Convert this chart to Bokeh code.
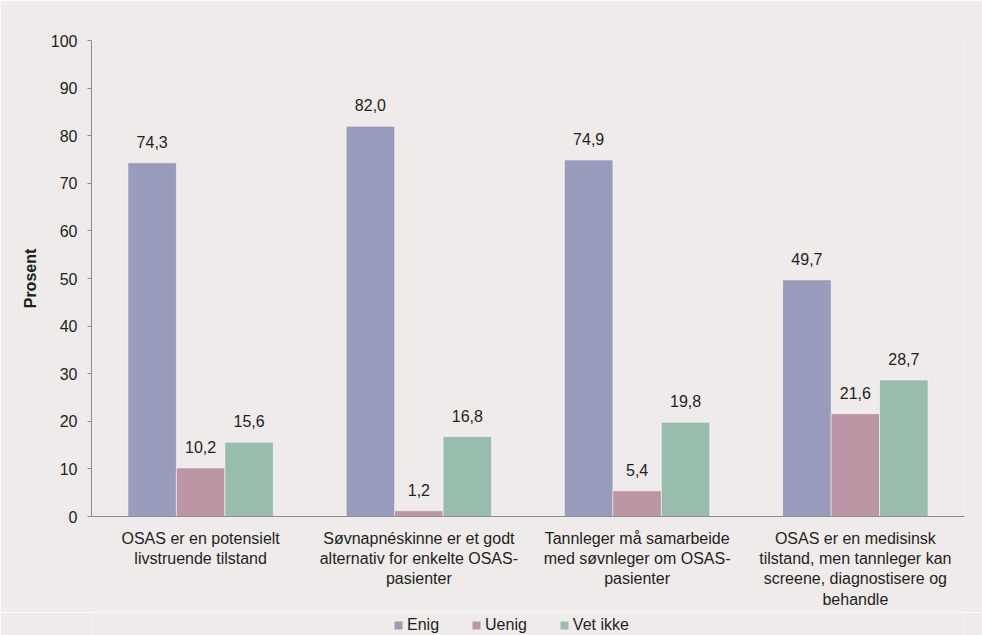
from bokeh.plotting import figure
from bokeh.models import ColumnDataSource, Range1d, FactorRange, Legend, LegendItem
from bokeh.layouts import column
from bokeh.transform import dodge
from bokeh.core.properties import value
from bokeh.embed import file_html
from bokeh.resources import INLINE

categories = [
    "OSAS er en potensielt\nlivstruende tilstand",
    "Søvnapnéskinne er et godt\nalternativ for enkelte OSAS-\npasienter",
    "Tannleger må samarbeide\nmed søvnleger om OSAS-\npasienter",
    "OSAS er en medisinsk\ntilstand, men tannleger kan\nscreene, diagnostisere og\nbehandle",
]
enig = [74.3, 82.0, 74.9, 49.7]
uenig = [10.2, 1.2, 5.4, 21.6]
vet_ikke = [15.6, 16.8, 19.8, 28.7]
series_names = ["Enig", "Uenig", "Vet ikke"]
y_ticks = [0, 10, 20, 30, 40, 50, 60, 70, 80, 90, 100]

colors = ["#989BBB", "#BC96A4", "#99BDAD"]
FONT = "Liberation Sans"
TEXT = "#231F20"
BG = "#EFEBEA"


def fmt(v):
    return f"{v:.1f}".replace(".", ",")


source = ColumnDataSource(dict(
    cat=categories,
    enig=enig, uenig=uenig, vet=vet_ikke,
    enig_l=[fmt(v) for v in enig],
    uenig_l=[fmt(v) for v in uenig],
    vet_l=[fmt(v) for v in vet_ikke],
))

p = figure(
    x_range=FactorRange(*categories), y_range=Range1d(0, 100),
    width=982, height=612, output_backend="svg", toolbar_location=None,
    min_border_left=91, min_border_right=18, min_border_top=40, min_border_bottom=96,
)
p.background_fill_color = BG
p.border_fill_color = BG
p.outline_line_color = None
p.xgrid.visible = False
p.ygrid.visible = False

bw = 0.222
cols = ["enig", "uenig", "vet"]
offsets = [-bw, 0.0, bw]
for col, off, color in zip(cols, offsets, colors):
    p.vbar(x=dodge("cat", off, range=p.x_range), top=col, width=bw, bottom=0,
           source=source, fill_color=color, line_color="white", line_alpha=0.5,
           line_width=1)
    p.text(x=dodge("cat", off, range=p.x_range), y=col, text=col + "_l", source=source,
           text_align="center", text_baseline="middle", y_offset=-21,
           text_font=value(FONT), text_font_size="16px", text_color=TEXT)

# y axis
ya = p.yaxis[0]
ya.ticker = y_ticks
ya.axis_label = "Prosent"
ya.axis_label_text_font = FONT
ya.axis_label_text_font_style = "bold"
ya.axis_label_text_font_size = "16px"
ya.axis_label_text_color = TEXT
ya.axis_label_standoff = 9
ya.major_label_text_font = FONT
ya.major_label_text_font_size = "16px"
ya.major_label_text_color = TEXT
ya.major_label_standoff = 10
ya.axis_line_color = "#8C8C8C"
ya.major_tick_line_color = "#8C8C8C"
ya.major_tick_out = 4
ya.major_tick_in = 0
ya.minor_tick_line_color = None

# x axis
xa = p.xaxis[0]
xa.major_label_text_font = FONT
xa.major_label_text_font_size = "16px"
xa.major_label_text_color = TEXT
xa.major_label_standoff = 13
xa.major_tick_out = 0
xa.major_tick_in = 0
xa.axis_line_color = "#8C8C8C"
xa.major_tick_line_color = None
xa.minor_tick_line_color = None

# legend strip
pl = figure(width=982, height=23, output_backend="svg", toolbar_location=None,
            x_range=Range1d(0, 1), y_range=Range1d(0, 1),
            x_axis_location=None, y_axis_location=None,
            min_border_left=91, min_border_right=18, min_border_top=0, min_border_bottom=0)
pl.background_fill_color = BG
pl.border_fill_color = BG
pl.outline_line_color = None
pl.grid.visible = False
items = []
for color, name in zip(colors, series_names):
    r = pl.vbar(x=[-10], top=[-5], bottom=[-6], width=0.1, fill_color=color, line_color=None)
    items.append(LegendItem(label=name, renderers=[r]))
lg = Legend(items=items, orientation="horizontal", location=(302, 1),
            background_fill_alpha=0, border_line_color=None, padding=0, margin=0,
            spacing=32, glyph_width=10, glyph_height=10, label_standoff=4,
            label_text_font=FONT, label_text_font_size="16px", label_text_color=TEXT)
pl.add_layout(lg)

layout = column(p, pl, spacing=0)
open("out.html", "w").write(file_html(layout, INLINE))
